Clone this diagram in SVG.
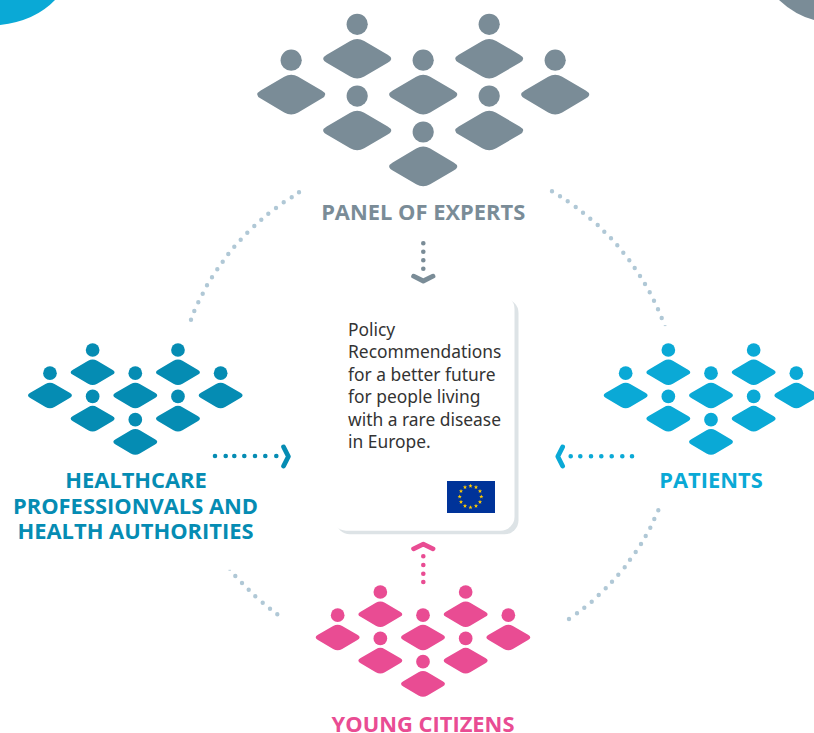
<svg xmlns="http://www.w3.org/2000/svg" xmlns:xlink="http://www.w3.org/1999/xlink" width="814" height="733" viewBox="0 0 814 733">
<style>
.bg{fill:#fff}
.grey{fill:#7a8c97;stroke:none}
.teal{fill:#058cb3}
.sky{fill:#0aa9d6}
.pink{fill:#e94c93}
.title{font-family:"Open Sans","Noto Sans",sans-serif;font-weight:700;font-size:21.9px;text-anchor:middle}
.body{font-family:"Noto Sans","Open Sans",sans-serif;font-size:17.4px;fill:#333}
.ring{fill:none;stroke:#b0c8d6;stroke-width:4.4;stroke-linecap:round}
.dots{fill:none;stroke-width:4.6;stroke-linecap:round}
.chev{fill:none;stroke-width:4.8;stroke-linecap:round;stroke-linejoin:round}
</style>
<defs>
<g id="person">
<circle cx="0" cy="0" r="10.6"/>
<path d="M-7 16.6Q0 12.6 7 16.6L30.5 30.4Q37.5 34.4 30.5 38.4L7 52.2Q0 56.2 -7 52.2L-30.5 38.4Q-37.5 34.4 -30.5 30.4Z"/>
</g>
<g id="cluster">
<use xlink:href="#person" href="#person" x="-66" y="0"/>
<use xlink:href="#person" href="#person" x="66" y="0"/>
<use xlink:href="#person" href="#person" x="-132" y="35.9"/>
<use xlink:href="#person" href="#person" x="0" y="35.9"/>
<use xlink:href="#person" href="#person" x="132" y="35.9"/>
<use xlink:href="#person" href="#person" x="-66" y="71.8"/>
<use xlink:href="#person" href="#person" x="66" y="71.8"/>
<use xlink:href="#person" href="#person" x="0" y="107.7"/>
</g>
<polygon id="star" points="0,-2.2 .6,-.7 2.1,-.7 .9,.3 1.3,1.8 0,.9 -1.3,1.8 -.9,.3 -2.1,-.7 -.6,-.7"/>
</defs>

<g id="corners">
<path class="sky" d="M0 0H55Q35 21 0 25Z"/>
<path class="grey" d="M779 0Q795 15 814 20V0Z"/>
</g>

<g id="connectors">
<path class="ring" d="M299 192.3h.01M291.7 197.3h.01M283.7 202.3h.01M276 208h.01M268.3 213.7h.01M261.3 219.7h.01M254.3 226h.01M247.3 232.7h.01M240.7 239.7h.01M234.3 246.7h.01M228.3 254h.01M222.7 261.7h.01M217.3 269.3h.01M212 277.3h.01M207 285.3h.01M202.7 293.7h.01M198.3 302.3h.01M194.3 311h.01M191 319.7h.01"/>
<path class="ring" d="M552 191.3h.01M560 196.3h.01M567.7 201.3h.01M575.7 207h.01M583 212.7h.01M590.3 218.7h.01M597.7 225h.01M604.3 231.7h.01M611 238.3h.01M617.3 245.3h.01M623.3 252.7h.01M629.3 260.3h.01M634.7 268h.01M640 276h.01M645 284h.01M649.7 292.3h.01M654 300.7h.01M658 309.3h.01M661.7 318h.01"/>
<path class="ring" d="M658.3 510.3h.01M654.3 519h.01M650.3 527.7h.01M645.7 536h.01M641 544h.01M635.7 552h.01M630 559.7h.01M624.7 567.3h.01M618.3 574.7h.01M612 581.7h.01M605.7 588.3h.01M598.7 595h.01M591.7 601.7h.01M584.3 607.7h.01M577 613.3h.01M569 619h.01"/>
<path class="ring" d="M235.3 576h.01M242 583h.01M248.7 589.7h.01M255.3 596.3h.01M262.7 602.7h.01M270 608.7h.01M277.3 614.3h.01"/>
<path d="M228.5 570.3h2.4M663.8 325.6h2.6" fill="none" stroke="#b0c8d6" stroke-width=".9"/>

<path class="dots" stroke="#7a8c97" d="M423.3 243.3h.01M423.3 251.7h.01M423.3 260.3h.01M423.3 268.7h.01"/>
<path class="chev" stroke="#7a8c97" d="M413.6 276.2L423.3 281L433 276.2"/>

<path class="dots" stroke="#058cb3" d="M215 456h.01M225.7 456h.01M234.3 456h.01M244.3 456h.01M255 456h.01M265.3 456h.01M276.3 456h.01"/>
<path class="chev" stroke="#058cb3" d="M283.6 447L288.4 456.5L283.6 466"/>

<path class="dots" stroke="#0aa9d6" d="M570.7 456.3h.01M580.3 456.3h.01M591 456.3h.01M601.3 456.3h.01M611.7 456.3h.01M622.3 456.3h.01M632 456.3h.01"/>
<path class="chev" stroke="#0aa9d6" d="M562.6 447L557.8 456.5L562.6 466"/>

<path class="dots" stroke="#e94c93" d="M423.3 556.3h.01M423.3 565h.01M423.3 573.7h.01M423.3 582h.01"/>
<path class="chev" stroke="#e94c93" d="M413.6 548.8L423.3 544.2L433 548.8"/>
</g>

<g id="panel-of-experts" class="grey">
<use xlink:href="#cluster" href="#cluster" transform="translate(423.2,24.3)"/>
<text class="title" x="423.2" y="220">PANEL OF EXPERTS</text>
</g>

<g id="healthcare" class="teal">
<use xlink:href="#cluster" href="#cluster" transform="translate(135.3,350) scale(.6465)"/>
<text class="title"><tspan x="136" y="487.5">HEALTHCARE</tspan><tspan x="135.5" y="513.5">PROFESSIONVALS AND</tspan><tspan x="135.5" y="538.5">HEALTH AUTHORITIES</tspan></text>
</g>

<g id="patients" class="sky">
<use xlink:href="#cluster" href="#cluster" transform="translate(711,350) scale(.6465)"/>
<text class="title" x="711" y="487.5">PATIENTS</text>
</g>

<g id="young-citizens" class="pink">
<use xlink:href="#cluster" href="#cluster" transform="translate(423,592) scale(.6465)"/>
<text class="title" x="423" y="732">YOUNG CITIZENS</text>
</g>

<g id="policy-card">
<rect x="336" y="299" width="182.5" height="235.3" rx="14" fill="#dde3e6"/>
<rect x="332" y="295" width="182.5" height="235.7" rx="14" class="bg"/>
<text class="body" x="348" y="336">Policy</text>
<text class="body" x="348" y="358.4">Recommendations</text>
<text class="body" x="348" y="381">for a better future</text>
<text class="body" x="348" y="403.4">for people living</text>
<text class="body" x="348" y="426">with a rare disease</text>
<text class="body" x="348" y="448.4">in Europe.</text>
<rect x="447" y="481" width="48" height="32" fill="#039"/>
<g fill="#fc0">
<use xlink:href="#star" href="#star" x="470.5" y="486"/>
<use xlink:href="#star" href="#star" x="476" y="487.3"/>
<use xlink:href="#star" href="#star" x="480" y="491.2"/>
<use xlink:href="#star" href="#star" x="481.3" y="496.7"/>
<use xlink:href="#star" href="#star" x="480" y="502"/>
<use xlink:href="#star" href="#star" x="476" y="506"/>
<use xlink:href="#star" href="#star" x="470.5" y="507.4"/>
<use xlink:href="#star" href="#star" x="465" y="506"/>
<use xlink:href="#star" href="#star" x="461" y="502"/>
<use xlink:href="#star" href="#star" x="459.7" y="496.7"/>
<use xlink:href="#star" href="#star" x="461" y="491.2"/>
<use xlink:href="#star" href="#star" x="465" y="487.3"/>
</g>
</g>
</svg>
